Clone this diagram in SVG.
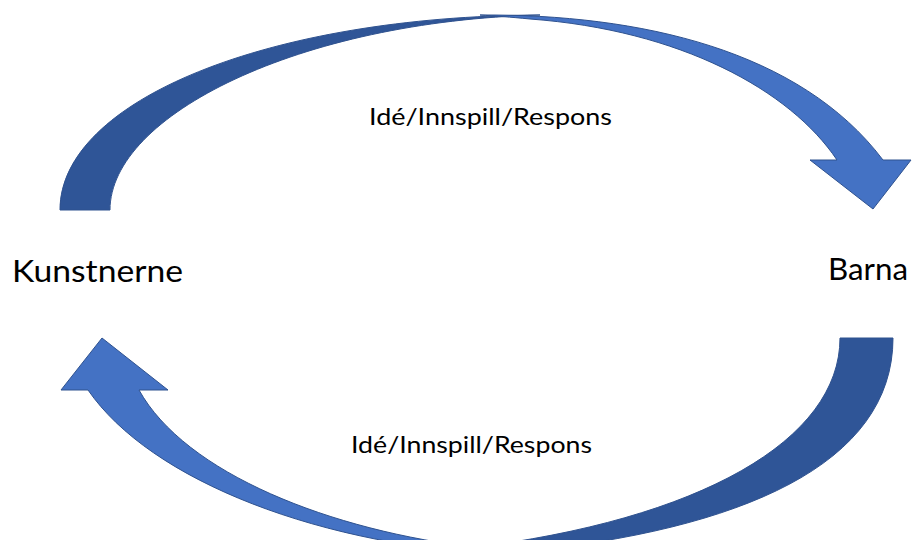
<svg xmlns="http://www.w3.org/2000/svg" width="913" height="540" viewBox="0 0 913 540">
<style>
.back{fill:#2F5597;stroke:#2F528F;stroke-width:1;stroke-linejoin:miter}
.front{fill:#4472C4;stroke:#2F528F;stroke-width:1;stroke-linejoin:miter}
.lbl{font-family:Lato,"Liberation Sans",sans-serif;fill:#000}
.side{font-size:30px}
.mid{font-size:24px}
</style>
<rect width="913" height="540" fill="#fff"/>
<g id="connectors">
  <g id="arrow-top">
    <path class="back" d="M60,210 C60,100 270,16 540,15 C300,21 110,115 110,210 Z"/>
    <path class="front" d="M480,15 C640,14 800,50 883,160 L911,160 L873,209 L810,160 L837,160 C790,90 680,30 530,19 C510,17 495,16 480,15 Z"/>
  </g>
  <g id="arrow-bottom">
    <path class="back" d="M893,338 C893,465 740,530 520,552 L470,548 C700,520 840,440 840,338 Z"/>
    <path class="front" d="M520,556 C320,548 150,480 88,390 L61,390 L102,338 L168,390 L139,390 C185,473 330,531 480,548 Z"/>
  </g>
</g>
<g id="node-kunstnerne"><text class="lbl side" x="12" y="282" textLength="171" lengthAdjust="spacingAndGlyphs">Kunstnerne</text></g>
<g id="node-barna"><text class="lbl side" x="828" y="280" textLength="80" lengthAdjust="spacingAndGlyphs">Barna</text></g>
<g id="label-top"><text class="lbl mid" x="369" y="125" textLength="243" lengthAdjust="spacingAndGlyphs">Idé/Innspill/Respons</text></g>
<g id="label-bottom"><text class="lbl mid" x="351" y="453" textLength="241" lengthAdjust="spacingAndGlyphs">Idé/Innspill/Respons</text></g>
</svg>
